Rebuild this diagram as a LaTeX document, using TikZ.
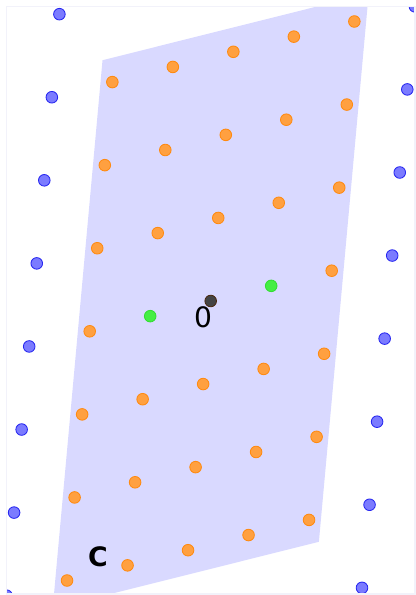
\documentclass[tikz,border=0pt]{standalone}
\usepackage{fontspec}
\setmainfont{DejaVu Sans}
\usepackage{xcolor}
\usepackage{tikz}
\definecolor{regionfill}{HTML}{D9D9FF}
\definecolor{framecol}{HTML}{F2F2FA}
\definecolor{orfill}{HTML}{FFA040}
\definecolor{oredge}{HTML}{FF8A10}
\definecolor{blfill}{HTML}{7B7BFF}
\definecolor{bledge}{HTML}{2626F0}
\definecolor{grfill}{HTML}{44EE44}
\definecolor{gredge}{HTML}{33DD33}
\definecolor{orfill0}{HTML}{444444}
\definecolor{oredge0}{HTML}{4A2A10}
\newcommand\ox{210.7}
\newcommand\oy{301}
\newcommand\ax{60.5}
\newcommand\ay{-15.15}
\newcommand\bx{7.55}
\newcommand\by{-83.07}
\newcommand\latpt[2]{({\ox+\ax*(#1)+\bx*(#2)},{\oy+\ay*(#1)+\by*(#2)})}

\begin{document}
\begin{tikzpicture}[x=0.025cm, y=-0.025cm,
  dot/.style={circle, inner sep=0pt, minimum size=0.29cm, line width=0.6pt},
  outpt/.style={dot, draw=bledge, fill=blfill},
  inpt/.style={dot, draw=oredge, fill=orfill},
  genpt/.style={dot, draw=gredge, fill=grfill},
  origpt/.style={dot, draw=oredge0, fill=orfill0},
  lbl/.style={inner sep=0pt, font=\fontsize{20}{24}\selectfont}]
\useasboundingbox (0,0) rectangle (416,595);
\begin{scope}
\clip (6.5,6.5) rectangle (415,594);
\fill[regionfill] \latpt{-2.2}{3.3} -- \latpt{2.2}{3.3} -- \latpt{2.2}{-3.3} -- \latpt{-2.2}{-3.3} -- cycle;
\foreach \i in {-3,...,3}{
  \foreach \j in {-4,...,4}{
    \pgfmathtruncatemacro\kind{(\i==0 && \j==0) ? 3 : ((abs(\i)==1 && \j==0) ? 2 : ((abs(\i)<3 && abs(\j)<4) ? 1 : 0))}
    \ifcase\kind \def\st{outpt}\or \def\st{inpt}\or \def\st{genpt}\or \def\st{origpt}\fi
    \node[\st] (pt-\i-\j) at \latpt{\i}{\j} {};
  }
}
\end{scope}
\draw[framecol, line width=0.8pt] (6.5,6.5) rectangle (415,594);
\node[lbl] (zero) at (203,317) {0};
\node[lbl, font=\fontsize{19}{23}\selectfont\bfseries] (cset) at (98,557) {C};
\end{tikzpicture}
\end{document}
